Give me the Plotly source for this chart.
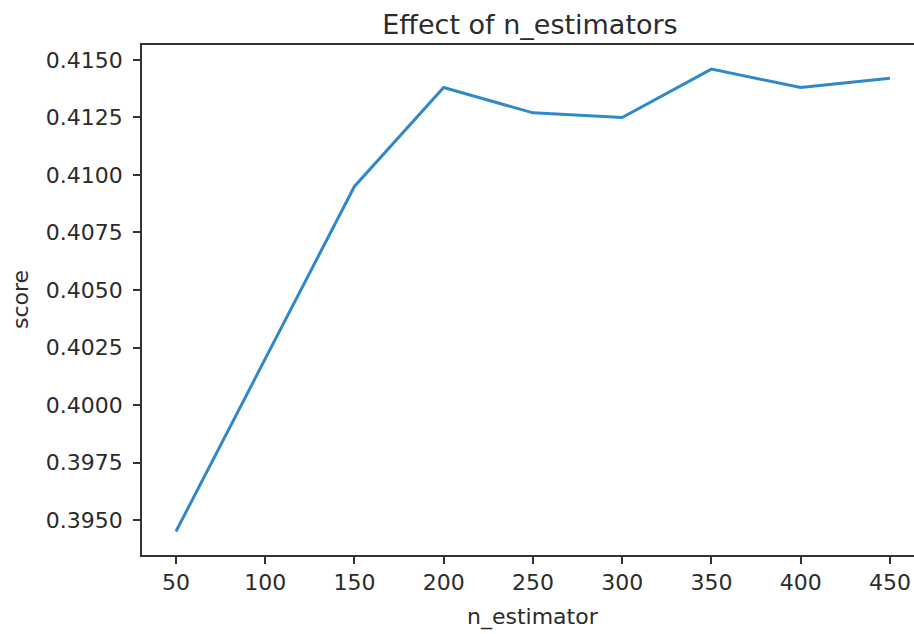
import plotly.graph_objects as go

n_estimators = [50, 100, 150, 200, 250, 300, 350, 400, 450]
scores = [0.3945, 0.4020, 0.4095, 0.4138, 0.4127, 0.4125, 0.4146, 0.4138, 0.4142]
y_ticks = [0.3950, 0.3975, 0.4000, 0.4025, 0.4050, 0.4075, 0.4100, 0.4125, 0.4150]
y_tick_text = ["0.3950", "0.3975", "0.4000", "0.4025", "0.4050", "0.4075", "0.4100", "0.4125", "0.4150"]
x_ticks = [50, 100, 150, 200, 250, 300, 350, 400, 450]

FONT = "DejaVu Sans"
TXT = "#2b2b2b"
AX = "#333333"
W, H = 914, 634

fig = go.Figure()
fig.add_trace(go.Scatter(
    x=n_estimators, y=scores, mode="lines",
    line=dict(color="#3088c8", width=3),
    showlegend=False,
))

fig.update_layout(
    width=W, height=H,
    margin=dict(l=142, r=0, t=45, b=79, autoexpand=False),
    paper_bgcolor="white", plot_bgcolor="white",
    font=dict(family=FONT, size=22, color=TXT),
    title=dict(text="Effect of n_estimators", font=dict(family=FONT, size=27, color=TXT),
               x=530/W, xref="container", xanchor="center",
               y=1-25/H, yref="container", yanchor="middle", automargin=False),
    annotations=[
        dict(text="n_estimator", xref="paper", yref="paper", x=(533-142)/772, y=-(617-555)/510,
             xanchor="center", yanchor="middle", showarrow=False,
             font=dict(family=FONT, size=22, color=TXT)),
        dict(text="score", xref="paper", yref="paper", x=-(142-20)/772, y=0.5,
             xanchor="center", yanchor="middle", showarrow=False, textangle=-90,
             font=dict(family=FONT, size=22, color=TXT)),
    ],
)
fig.update_xaxes(
    range=[31, 463.5], tickmode="array", tickvals=x_ticks, automargin=False,
    showgrid=False, zeroline=False,
    showline=True, linecolor=AX, linewidth=1.5, mirror=True,
    ticks="outside", ticklen=7, tickwidth=1.5, tickcolor=AX,
    tickfont=dict(family=FONT, size=22, color=TXT),
)
fig.update_yaxes(
    range=[0.39348, 0.41565], tickmode="array", tickvals=y_ticks, ticktext=y_tick_text,
    automargin=False, ticklabelstandoff=6,
    showgrid=False, zeroline=False,
    showline=True, linecolor=AX, linewidth=1.5,
    ticks="outside", ticklen=7, tickwidth=1.5, tickcolor=AX,
    tickfont=dict(family=FONT, size=22, color=TXT),
)

fig.write_html("out.html", config={"displayModeBar": False},
               post_script="document.body.style.margin='0';document.body.style.overflow='hidden';")
